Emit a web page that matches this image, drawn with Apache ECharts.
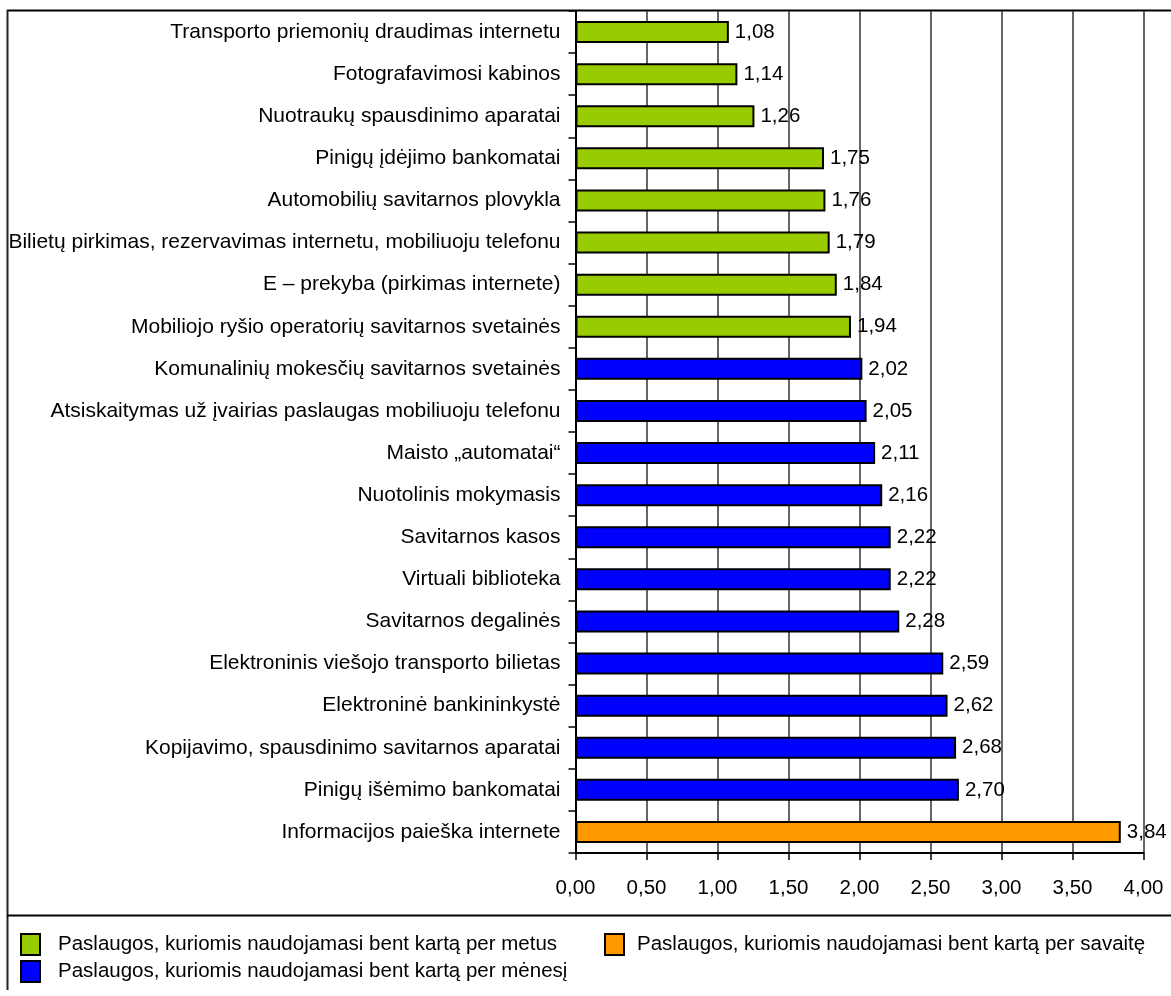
<!DOCTYPE html>
<html>
<head>
<meta charset="utf-8">
<script src="https://cdn.jsdelivr.net/npm/echarts@6/dist/echarts.min.js"></script>
<style>
html,body{margin:0;padding:0;background:#fff;}
#chart{width:1171px;height:996px;}
</style>
</head>
<body>
<div id="chart"></div>
<script>
const categories = [
  'Transporto priemonių draudimas internetu',
  'Fotografavimosi kabinos',
  'Nuotraukų spausdinimo aparatai',
  'Pinigų įdėjimo bankomatai',
  'Automobilių savitarnos plovykla',
  'Bilietų pirkimas, rezervavimas internetu, mobiliuoju telefonu',
  'E – prekyba (pirkimas internete)',
  'Mobiliojo ryšio operatorių savitarnos svetainės',
  'Komunalinių mokesčių savitarnos svetainės',
  'Atsiskaitymas už įvairias paslaugas mobiliuoju telefonu',
  'Maisto „automatai“',
  'Nuotolinis mokymasis',
  'Savitarnos kasos',
  'Virtuali biblioteka',
  'Savitarnos degalinės',
  'Elektroninis viešojo transporto bilietas',
  'Elektroninė bankininkystė',
  'Kopijavimo, spausdinimo savitarnos aparatai',
  'Pinigų išėmimo bankomatai',
  'Informacijos paieška internete'
];
const values = [1.08, 1.14, 1.26, 1.75, 1.76, 1.79, 1.84, 1.94, 2.02, 2.05, 2.11, 2.16, 2.22, 2.22, 2.28, 2.59, 2.62, 2.68, 2.70, 3.84];
// group index per category: 0 = per metus, 1 = per mėnesį, 2 = per savaitę
const groups = [0,0,0,0,0,0,0,0,1,1,1,1,1,1,1,1,1,1,1,2];
const seriesNames = [
  'Paslaugos, kuriomis naudojamasi bent kartą per metus',
  'Paslaugos, kuriomis naudojamasi bent kartą per mėnesį',
  'Paslaugos, kuriomis naudojamasi bent kartą per savaitę'
];
const seriesColors = ['#99CC00', '#0000FF', '#FF9900'];
const xTicks = [0, 0.5, 1, 1.5, 2, 2.5, 3, 3.5, 4];

const FONT = 'Liberation Sans, Arial, sans-serif';
const fmt = v => Number(v).toFixed(2).replace('.', ',');

const series = seriesNames.map((name, g) => ({
  name: name,
  type: 'bar',
  barWidth: 22,
  barGap: '-100%',
  data: values.map((v, i) => groups[i] === g ? v : '-'),
  itemStyle: { color: seriesColors[g], borderColor: '#000', borderWidth: 2 },
  label: {
    show: true, position: 'right', distance: 6,
    color: '#000', fontSize: 20.5, fontFamily: FONT,
    formatter: p => fmt(p.value)
  },
  animation: false
}));

const chart = echarts.init(document.getElementById('chart'), null, { renderer: 'canvas' });
chart.setOption({
  backgroundColor: '#fff',
  animation: false,
  grid: { left: 575.5, right: 27.5, top: 11, bottom: 143, containLabel: false },
  xAxis: {
    type: 'value', min: xTicks[0], max: xTicks[xTicks.length - 1], interval: 0.5,
    axisLine: { show: true, lineStyle: { color: '#000', width: 2 } },
    axisTick: { show: true, length: 7, lineStyle: { color: '#000', width: 1.5 } },
    axisLabel: { margin: 25, fontSize: 20.5, fontFamily: FONT, color: '#000', formatter: fmt },
    splitLine: { show: true, lineStyle: { color: '#333', width: 1.5 } }
  },
  yAxis: {
    type: 'category', data: categories, inverse: true,
    axisLine: { show: true, lineStyle: { color: '#000', width: 2 } },
    axisTick: { show: true, length: 7, lineStyle: { color: '#000', width: 1.5 } },
    axisLabel: { margin: 15, fontSize: 21, fontFamily: FONT, color: '#000' },
    splitLine: { show: false }
  },
  legend: [
    {
      data: [seriesNames[0], seriesNames[1]],
      orient: 'vertical', left: 15, top: 928,
      itemWidth: 19, itemHeight: 21, itemGap: 4,
      icon: 'rect',
      textStyle: { fontSize: 20.5, lineHeight: 21, fontFamily: FONT, color: '#000', padding: [0, 0, 0, 13] },
      selectedMode: false
    },
    {
      data: [seriesNames[2]],
      orient: 'vertical', left: 599, top: 928,
      itemWidth: 19, itemHeight: 21,
      icon: 'rect',
      textStyle: { fontSize: 20.5, lineHeight: 21, fontFamily: FONT, color: '#000', padding: [0, 0, 0, 8] },
      selectedMode: false
    }
  ],
  graphic: [
    { type: 'line', shape: { x1: 7, y1: 10.5, x2: 1171, y2: 10.5 }, style: { stroke: '#000', lineWidth: 2 }, silent: true },
    { type: 'line', shape: { x1: 7.5, y1: 10, x2: 7.5, y2: 990 }, style: { stroke: '#222', lineWidth: 2 }, silent: true },
    { type: 'line', shape: { x1: 7, y1: 915.5, x2: 1171, y2: 915.5 }, style: { stroke: '#000', lineWidth: 2 }, silent: true }
  ],
  series: series
});
</script>
</body>
</html>
